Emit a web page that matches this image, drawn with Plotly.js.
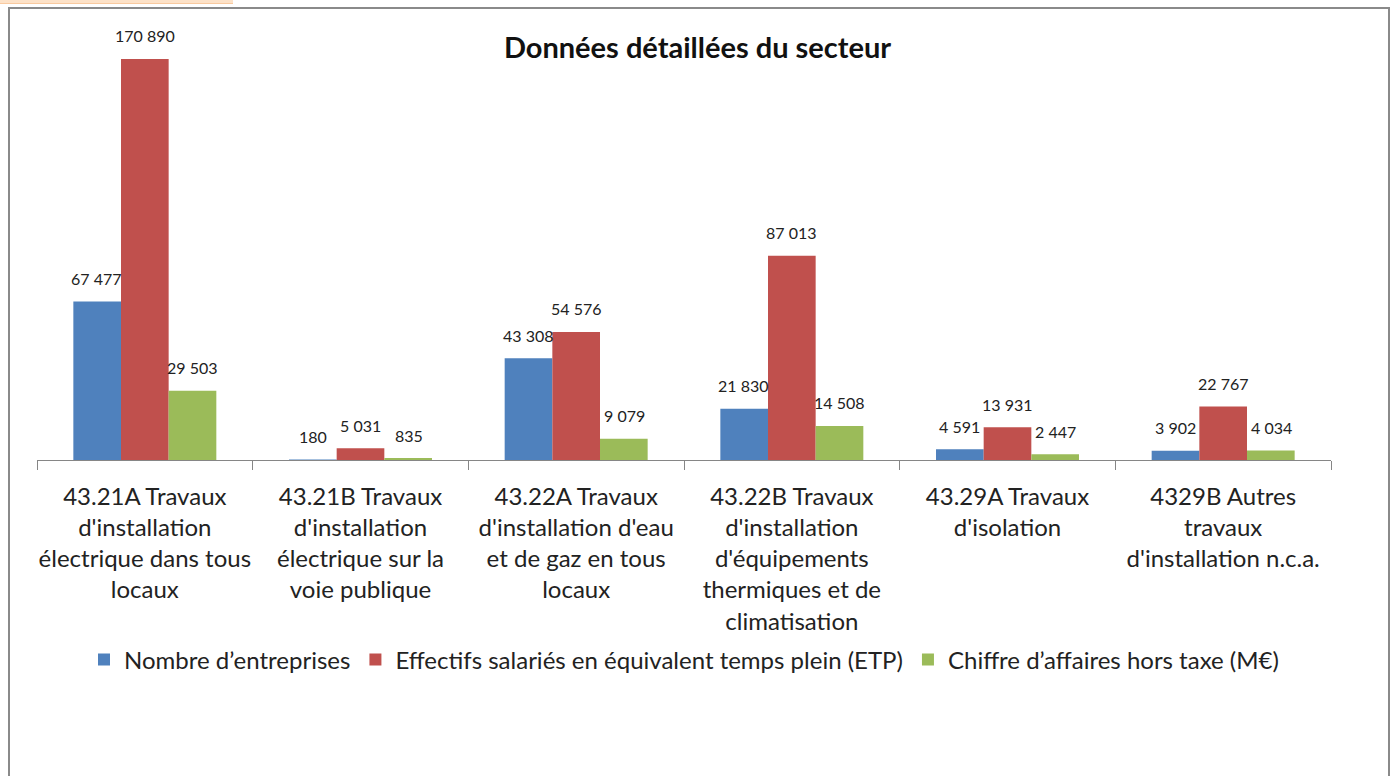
<!DOCTYPE html>
<html>
<head>
<meta charset="utf-8">
<script src="https://cdn.plot.ly/plotly-3.0.1.min.js"></script>
<style>
  html, body { margin: 0; padding: 0; width: 1395px; height: 776px; overflow: hidden; background: #fff; }
  #chart { position: absolute; left: 0; top: 0; width: 1395px; height: 776px; }
  #frame { position: absolute; left: 8px; top: 7px; width: 1378px; height: 800px;
           border: 2.5px solid #8a8a8a; border-bottom: none; pointer-events: none; }
  #strip { position: absolute; left: 0; top: 0; width: 233px; height: 3px;
           background: #fde2c8; border-bottom: 1px solid #f9caa0; pointer-events: none; }
</style>
</head>
<body>
<div id="chart"></div>
<div id="frame"></div>
<div id="strip"></div>
<script>
const categories = [
  "43.21A Travaux<br>d'installation<br>électrique dans tous<br>locaux",
  "43.21B Travaux<br>d'installation<br>électrique sur la<br>voie publique",
  "43.22A Travaux<br>d'installation d'eau<br>et de gaz en tous<br>locaux",
  "43.22B Travaux<br>d'installation<br>d'équipements<br>thermiques et de<br>climatisation",
  "43.29A Travaux<br>d'isolation",
  "4329B Autres<br>travaux<br>d'installation n.c.a."
];
const seriesNames = [
  "Nombre d’entreprises",
  "Effectifs salariés en équivalent temps plein (ETP)",
  "Chiffre d’affaires hors taxe (M€)"
];
const entreprises = [67477, 180, 43308, 21830, 4591, 3902];
const effectifs   = [170890, 5031, 54576, 87013, 13931, 22767];
const chiffre     = [29503, 835, 9079, 14508, 2447, 4034];
const colors = ["#4f81bd", "#c0504d", "#9bbb59"];

const seriesValues = [entreprises, effectifs, chiffre];
const fmt = v => String(v).replace(/\B(?=(\d{3})+(?!\d))/g, " ");
const FONT = "Lato, 'Liberation Sans', sans-serif";

const traces = seriesValues.map((vals, i) => ({
  type: "bar",
  name: seriesNames[i],
  x: categories,
  y: vals,
  marker: { color: colors[i] },
  hoverinfo: "skip"
}));

const barShift = 48;
const annotations = [];
seriesValues.forEach((vals, i) => {
  vals.forEach((v, k) => {
    annotations.push({
      x: categories[k], y: v, xref: "x", yref: "y",
      text: fmt(v), showarrow: false,
      xanchor: "center", yanchor: "middle",
      xshift: (i - 1) * barShift, yshift: 23,
      font: { family: FONT, size: 16, color: "#222" }
    });
  });
});

const layout = {
  width: 1395, height: 776,
  paper_bgcolor: "rgba(0,0,0,0)", plot_bgcolor: "rgba(0,0,0,0)",
  margin: { l: 37, r: 64, t: 30, b: 316 },
  title: {
    text: "<b>Données détaillées du secteur</b>",
    x: 0.5, xref: "container", xanchor: "center",
    y: 1 - 48 / 776, yref: "container", yanchor: "middle",
    font: { family: FONT, size: 29, color: "#111" }
  },
  barmode: "group",
  bargap: 0.337,
  bargroupgap: 0,
  showlegend: true,
  legend: {
    orientation: "h", x: 0.5, xanchor: "center", y: -0.465, yanchor: "middle",
    font: { family: FONT, size: 24, color: "#222" },
    traceorder: "normal"
  },
  xaxis: {
    type: "category",
    showline: true, linecolor: "#868686", linewidth: 1,
    ticks: "outside", tickson: "boundaries", ticklen: 9, tickcolor: "#868686", tickwidth: 1,
    ticklabelstandoff: 15,
    tickfont: { family: FONT, size: 24, color: "#222" },
    tickangle: 0,
    showgrid: false, zeroline: false, fixedrange: true
  },
  yaxis: {
    range: [0, 183200],
    showgrid: false, zeroline: false, showline: false, showticklabels: false, ticks: "",
    fixedrange: true
  },
  annotations: annotations
};

Plotly.newPlot("chart", traces, layout, { displayModeBar: false, staticPlot: true });
</script>
</body>
</html>
